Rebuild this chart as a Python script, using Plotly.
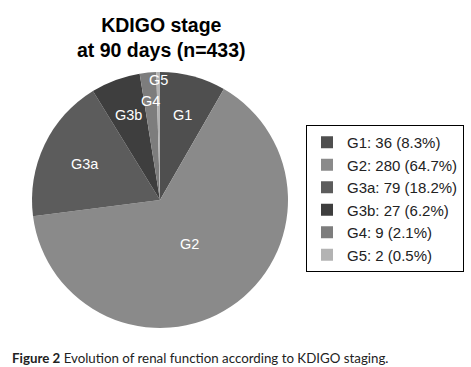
import math
import plotly.graph_objects as go

stages = ["G1", "G2", "G3a", "G3b", "G4", "G5"]
counts = [36, 280, 79, 27, 9, 2]
colors = ["#4f4f4f", "#8a8a8a", "#5c5c5c", "#3e3e3e", "#7d7d7d", "#b3b3b3"]
label_radius = [0.69, 0.41, 0.65, 0.71, 0.78, 0.94]

title_text = "KDIGO stage<br>at 90 days (n=433)"
caption_bold = "Figure 2"
caption_rest = " Evolution of renal function according to KDIGO staging."

W, H = 471, 367
total = sum(counts)
legend_labels = [f"{s}: {c} ({100 * c / total:.1f}%)" for s, c in zip(stages, counts)]

SANS = "'Liberation Sans', Arial, sans-serif"

# pie geometry (pixels)
cx, cy, R = 160, 200, 128
dom_x = [(cx - R) / W, (cx + R) / W]
dom_y = [1 - (cy + R) / H, 1 - (cy - R) / H]

fig = go.Figure(go.Pie(
    labels=legend_labels,
    values=counts,
    sort=False,
    direction="clockwise",
    rotation=0,
    marker=dict(colors=colors, line=dict(width=0)),
    textinfo="none",
    hoverinfo="label",
    domain=dict(x=dom_x, y=dom_y),
))

annotations = []
cum = 0
for s, c, rf in zip(stages, counts, label_radius):
    mid = (cum + c / 2) / total * 2 * math.pi
    cum += c
    px = cx + rf * R * math.sin(mid)
    py = cy - rf * R * math.cos(mid)
    annotations.append(dict(
        x=px / W, y=1 - py / H, xref="paper", yref="paper",
        text=s, showarrow=False,
        font=dict(family=SANS, size=14.5, color="white"),
        xanchor="center", yanchor="middle",
    ))

annotations.append(dict(
    x=161 / W, y=1 - 37 / H, xref="paper", yref="paper",
    text=f"<b>{title_text}</b>", showarrow=False,
    font=dict(family=SANS, size=19.5, color="black"),
    xanchor="center", yanchor="middle",
))
annotations.append(dict(
    x=10 / W, y=1 - 358 / H, xref="paper", yref="paper",
    text=f"<b>{caption_bold}</b>{caption_rest}", showarrow=False,
    font=dict(family="Lato", size=13.3, color="#222222"),
    xanchor="left", yanchor="middle",
))

fig.update_layout(
    width=W, height=H,
    margin=dict(l=0, r=0, t=0, b=0),
    paper_bgcolor="white",
    plot_bgcolor="white",
    showlegend=True,
    legend=dict(
        x=306 / W, y=1 - 125 / H, xanchor="left", yanchor="top",
        bordercolor="black", borderwidth=1,
        font=dict(family=SANS, size=15, color="#222222"),
        itemwidth=30,
        tracegroupgap=0,
    ),
    annotations=annotations,
)

fig.write_html("out.html", config={"displayModeBar": False},
               post_script="document.body.style.margin='0';")
